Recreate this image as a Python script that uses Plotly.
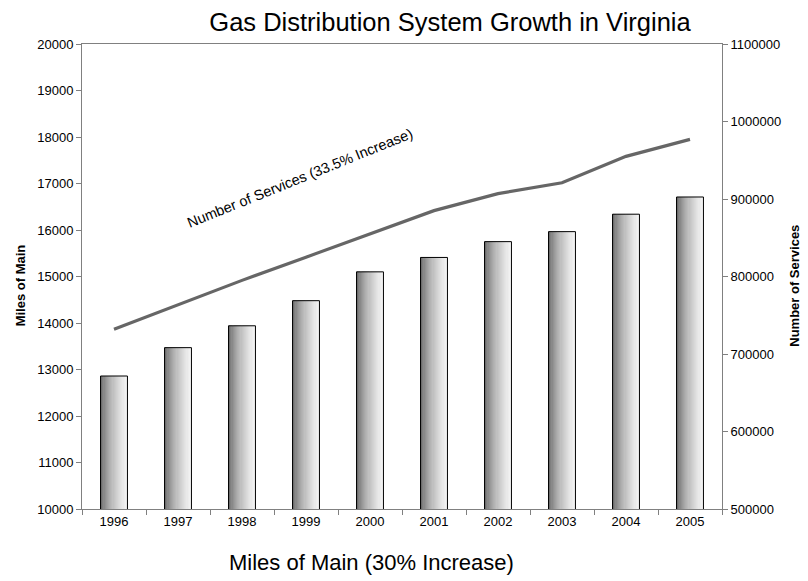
import plotly.graph_objects as go

years = ["1996", "1997", "1998", "1999", "2000", "2001", "2002", "2003", "2004", "2005"]
miles_of_main = [12860, 13470, 13940, 14480, 15100, 15410, 15750, 15965, 16340, 16710]
services = [732000, 764000, 795000, 825000, 855000, 885000, 907000, 921000, 955000, 977000]

FONT = "Liberation Sans, Arial, sans-serif"
AXIS_COLOR = "#808080"

fig = go.Figure()

# gradient bars built from narrow overlapping slices
BAR_W = 0.42
N = 24
sw = BAR_W / N
for i in range(N):
    t = i / (N - 1)
    v = int(round(85 + (245 - 85) * (t ** 0.55)))
    col = f"rgb({v},{v},{v})"
    fig.add_trace(go.Bar(
        x=years, y=miles_of_main, base=0,
        offset=-BAR_W / 2 + i * sw, width=sw * 1.15 if i < N - 1 else sw,
        marker=dict(color=col, line=dict(width=0)),
        showlegend=False, hoverinfo="skip", yaxis="y",
    ))
# outline
fig.add_trace(go.Bar(
    x=years, y=miles_of_main, offset=-BAR_W / 2, width=BAR_W,
    marker=dict(color="rgba(0,0,0,0)", line=dict(color="#000000", width=1)),
    showlegend=False, name="Miles of Main", yaxis="y",
))

fig.add_trace(go.Scatter(
    x=years, y=services, mode="lines", yaxis="y2",
    line=dict(color="#666666", width=3.2), showlegend=False, name="Number of Services",
))

fig.add_annotation(
    x=0.341, y=0.712, xref="paper", yref="paper", xanchor="center", yanchor="middle",
    text="Number of Services (33.5% Increase)", showarrow=False,
    textangle=-22, font=dict(family=FONT, size=14.5, color="#000000"),
)
fig.add_annotation(
    x=-0.096, y=0.48, xref="paper", yref="paper", xanchor="center", yanchor="middle",
    text="<b>Miles of Main</b>", showarrow=False, textangle=-90,
    font=dict(family=FONT, size=13, color="#000000"),
)
fig.add_annotation(
    x=1.114, y=0.48, xref="paper", yref="paper", xanchor="center", yanchor="middle",
    text="<b>Number of Services</b>", showarrow=False, textangle=-90,
    font=dict(family=FONT, size=13, color="#000000"),
)
fig.add_annotation(
    x=0.452, y=-0.116, xref="paper", yref="paper", xanchor="center", yanchor="middle",
    text="Miles of Main (30% Increase)", showarrow=False,
    font=dict(family=FONT, size=22, color="#000000"),
)

fig.update_layout(
    width=800, height=573,
    margin=dict(l=74, r=86, t=36, b=72, autoexpand=False),
    paper_bgcolor="white", plot_bgcolor="white",
    barmode="overlay",
    font=dict(family=FONT, size=13, color="#000000"),
    title=dict(text="Gas Distribution System Growth in Virginia", x=0.5525, xanchor="center",
               y=0.9756, yanchor="middle", font=dict(family=FONT, size=25.5, color="#000000")),
    xaxis=dict(
        type="category", range=[-0.5, 9.5], automargin=False,
        showline=True, linecolor=AXIS_COLOR, linewidth=1, mirror=True,
        ticks="outside", ticklen=5, tickcolor=AXIS_COLOR, tickson="boundaries",
        showgrid=False, zeroline=False,
        tickfont=dict(family=FONT, size=13),
    ),
    yaxis=dict(
        range=[10000, 20000], dtick=1000, automargin=False,
        showline=True, linecolor=AXIS_COLOR, linewidth=1,
        ticks="outside", ticklen=5, tickcolor=AXIS_COLOR,
        showgrid=False, zeroline=False, tickformat="d",
        tickfont=dict(family=FONT, size=13),
    ),
    yaxis2=dict(
        range=[500000, 1100000], dtick=100000, overlaying="y", side="right", automargin=False,
        showline=True, linecolor=AXIS_COLOR, linewidth=1,
        ticks="outside", ticklen=5, tickcolor=AXIS_COLOR,
        showgrid=False, zeroline=False, tickformat="d",
        tickfont=dict(family=FONT, size=13),
    ),
)

fig.write_html("out.html")
